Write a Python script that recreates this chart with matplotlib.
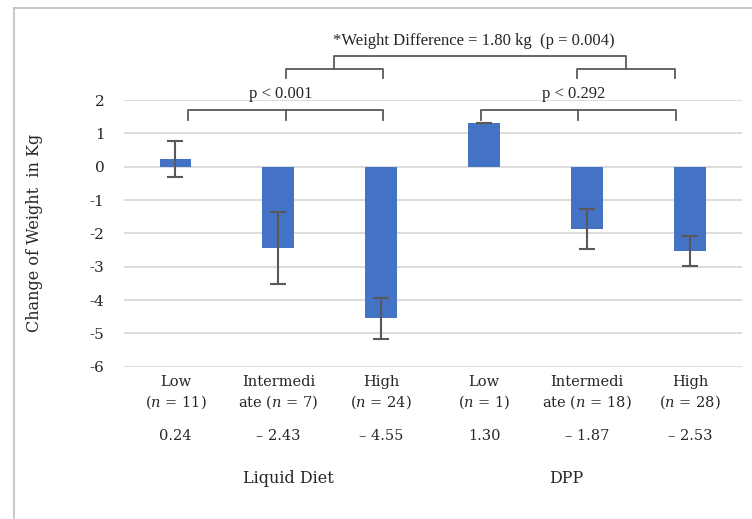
import matplotlib
matplotlib.use("Agg")
import matplotlib.pyplot as plt
from matplotlib.lines import Line2D
import numpy as np

# Data
labels = ["Low\n($\\it{n}$ = 11)", "Intermedi\nate ($\\it{n}$ = 7)", "High\n($\\it{n}$ = 24)",
          "Low\n($\\it{n}$ = 1)", "Intermedi\nate ($\\it{n}$ = 18)", "High\n($\\it{n}$ = 28)"]
change = [0.24, -2.43, -4.55, 1.30, -1.87, -2.53]
err = [0.54, 1.08, 0.62, 0.0, 0.6, 0.45]
value_text = ["0.24", "\u2013 2.43", "\u2013 4.55", "1.30", "\u2013 1.87", "\u2013 2.53"]
groups = ["Liquid Diet", "DPP"]
yticks = [2, 1, 0, -1, -2, -3, -4, -5, -6]

plt.rcParams["font.family"] = "DejaVu Serif"
plt.rcParams["mathtext.fontset"] = "custom"
plt.rcParams["mathtext.it"] = "DejaVu Serif:italic"
plt.rcParams["mathtext.rm"] = "DejaVu Serif"

W, H = 752, 519
fig = plt.figure(figsize=(W / 100, H / 100), dpi=100)
ax = fig.add_axes([124 / W, 1 - 366.7 / H, (741.5 - 124) / W, (366.7 - 100) / H])

x = np.arange(len(change))
bar_color = "#4472C4"
dark = "#595959"

ax.bar(x, change, width=0.31, color=bar_color, zorder=3)
ax.errorbar(x, change, yerr=err, fmt="none", ecolor=dark, elinewidth=1.5,
            capsize=6, capthick=1.5, zorder=4)

ax.set_xlim(-0.5, len(change) - 0.5)
ax.set_ylim(-6, 2)
ax.set_yticks(yticks)
ax.set_yticklabels([str(v) for v in yticks])
ax.yaxis.grid(True, color="#d9d9d9", linewidth=1.3, zorder=0)
ax.set_axisbelow(True)
for s in ax.spines.values():
    s.set_visible(False)
ax.tick_params(axis="y", length=0, pad=14, labelsize=11, colors="#262626")
ax.set_xticks(x)
ax.set_xticklabels(labels, fontsize=10.5, color="#262626", linespacing=1.3)
ax.tick_params(axis="x", length=0, pad=6)

ax.set_ylabel("Change of Weight  in Kg", fontsize=11.5, color="#262626")
ax.yaxis.set_label_coords(-0.131, 0.5)

# values row and group labels under the categories
tr = ax.get_xaxis_transform()
for xi, t in zip(x, value_text):
    ax.text(xi, -0.26, t, transform=tr, ha="center", va="center",
            fontsize=10.5, color="#262626")
group_x = [1.10, 3.80]
for gx, g in zip(group_x, groups):
    ax.text(gx, -0.4175, g, transform=tr, ha="center", va="center",
            fontsize=11.5, color="#262626")


# significance brackets
def line(xs, ys):
    ax.add_line(Line2D(xs, ys, color=dark, lw=1.3, clip_on=False, zorder=5))


def bracket(xl, xr, y, yb, xm=None):
    line([xl, xl, xr, xr], [yb, y, y, yb])
    if xm is not None:
        line([xm, xm], [y, yb])


bracket(0.12, 2.02, 1.71, 1.40, xm=1.07)
bracket(2.97, 4.86, 1.71, 1.40, xm=3.91)
bracket(1.07, 2.02, 2.93, 2.66)
bracket(3.90, 4.85, 2.93, 2.66)
bracket(1.545, 4.375, 3.31, 2.93)

ann = dict(ha="center", va="center", family="Liberation Serif", color="#262626",
           clip_on=False)
ax.text(1.02, 2.17, "p < 0.001", fontsize=12, **ann)
ax.text(3.87, 2.17, "p < 0.292", fontsize=12, **ann)
ax.text(2.90, 3.78, "*Weight Difference = 1.80 kg  (p = 0.004)", fontsize=12, **ann)

# outer frame (left and top edges visible)
frame = dict(color="#bfbfbf", lw=1.2, transform=None)
fig.add_artist(Line2D([14, 14], [0, H - 8], **frame))
fig.add_artist(Line2D([14, W], [H - 8, H - 8], **frame))

fig.savefig("out.png", dpi=100)
